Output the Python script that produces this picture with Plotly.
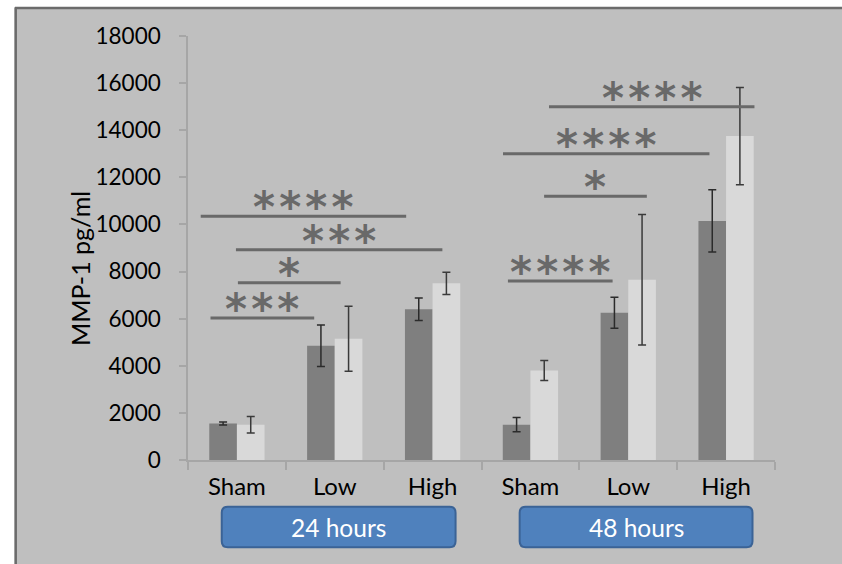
import plotly.graph_objects as go

# Treatment groups along the x axis (two time points, three doses each)
groups = ["Sham", "Low", "High", "Sham", "Low", "High"]
time_labels = ["24 hours", "48 hours"]

# MMP-1 concentration (pg/ml), mean and error for the two series
dark_vals = [1550, 4850, 6400, 1500, 6250, 10150]
dark_err = [60, 880, 475, 300, 660, 1325]
light_vals = [1500, 5150, 7500, 3800, 7650, 13750]
light_err = [350, 1380, 470, 425, 2770, 2060]

# Significance brackets: start/end on the category axis, height, label
sig_x0 = [-0.37, -0.01, 0.01, -0.27, 2.77, 3.14, 2.72, 3.19]
sig_x1 = [1.73, 2.10, 1.06, 0.79, 3.84, 4.19, 4.83, 5.29]
sig_y = [10350, 8930, 7520, 6030, 7600, 11200, 13000, 15000]
sig_labels = ["****", "***", "*", "***", "****", "*", "****", "****"]

# Time-point boxes span these category-axis ranges
box_x0 = [-0.155, 2.89]
box_x1 = [2.235, 5.27]

W, H = 842, 564
ML, MR, MT, MB = 188, 67, 36, 104
PW, PH = W - ML - MR, H - MT - MB

def px_x(p):
    return (p - ML) / PW

def px_y(p):
    return (H - MB - p) / PH

FONT = "Lato"
PANEL = "#bfbfbf"
AX = "#a6a6a6"
SIG = "#696969"

x = list(range(len(groups)))

fig = go.Figure()
fig.add_trace(go.Bar(
    x=x, y=dark_vals, marker=dict(color="#7f7f7f", line=dict(width=0)),
    error_y=dict(type="data", array=dark_err, color="#2b2b2b", thickness=1.5, width=4),
    showlegend=False,
))
fig.add_trace(go.Bar(
    x=x, y=light_vals, marker=dict(color="#d9d9d9", line=dict(width=0)),
    error_y=dict(type="data", array=light_err, color="#3a3a3a", thickness=1.5, width=4),
    showlegend=False,
))

shapes = []
annotations = []

# white page margin and the dark frame of the chart panel
shapes.append(dict(type="rect", xref="paper", yref="paper",
                   x0=px_x(-10), x1=px_x(14.5), y0=px_y(H + 10), y1=px_y(-10),
                   fillcolor="white", line=dict(width=0), layer="below"))
shapes.append(dict(type="rect", xref="paper", yref="paper",
                   x0=px_x(-10), x1=px_x(W + 10), y0=px_y(7), y1=px_y(-10),
                   fillcolor="white", line=dict(width=0), layer="below"))
shapes.append(dict(type="line", xref="paper", yref="paper",
                   x0=px_x(15.7), x1=px_x(15.7), y0=px_y(7.5), y1=px_y(H + 10),
                   line=dict(color="#6b6b6b", width=2.5)))
shapes.append(dict(type="line", xref="paper", yref="paper",
                   x0=px_x(15), x1=px_x(W + 10), y0=px_y(8), y1=px_y(8),
                   line=dict(color="#6b6b6b", width=2.5)))

# significance brackets and their asterisks
for a, b, yv, lab in zip(sig_x0, sig_x1, sig_y, sig_labels):
    shapes.append(dict(type="line", xref="x", yref="y", x0=a, x1=b, y0=yv, y1=yv,
                       line=dict(color=SIG, width=3)))
    annotations.append(dict(x=(a + b) / 2, y=yv, xref="x", yref="y",
                            text="<b>" + "\u200a".join(lab) + "</b>", showarrow=False,
                            yanchor="bottom", yshift=-18,
                            font=dict(family="DejaVu Sans", size=42, color=SIG)))

# rounded blue boxes naming the time points
r_x = 6 / (PW / 6)
r_y = 6 / PH
by0, by1 = px_y(547.3), px_y(506.7)
for a, b, lab in zip(box_x0, box_x1, time_labels):
    path = (f"M {a + r_x} {by0} L {b - r_x} {by0} Q {b} {by0} {b} {by0 + r_y} "
            f"L {b} {by1 - r_y} Q {b} {by1} {b - r_x} {by1} "
            f"L {a + r_x} {by1} Q {a} {by1} {a} {by1 - r_y} "
            f"L {a} {by0 + r_y} Q {a} {by0} {a + r_x} {by0} Z")
    shapes.append(dict(type="path", xref="x", yref="paper", path=path,
                       fillcolor="#4f81bd", line=dict(color="#3b6396", width=2)))
    annotations.append(dict(x=(a + b) / 2, y=(by0 + by1) / 2, xref="x", yref="paper",
                            text=lab, showarrow=False, xanchor="center", yanchor="middle",
                            font=dict(family=FONT, size=24.5, color="white")))

# y-axis title
annotations.append(dict(x=px_x(80), y=px_y(269), xref="paper", yref="paper",
                        text="MMP-1 pg/ml", textangle=-90, showarrow=False,
                        xanchor="center", yanchor="middle",
                        font=dict(family=FONT, size=25, color="black")))

fig.update_layout(
    width=W, height=H,
    margin=dict(l=ML, r=MR, t=MT, b=MB, pad=0),
    paper_bgcolor=PANEL, plot_bgcolor=PANEL,
    barmode="group", bargap=0.435, bargroupgap=0,
    shapes=shapes, annotations=annotations,
    font=dict(family=FONT, size=22, color="black"),
    xaxis=dict(
        range=[-0.5, 5.5], tickmode="array", tickvals=x, ticktext=groups,
        ticks="", showline=True, linecolor=AX, linewidth=1.5,
        showgrid=False, zeroline=False, ticklabelstandoff=4,
        minor=dict(tickmode="array", tickvals=[i - 0.5 for i in range(7)],
                   ticks="outside", ticklen=8, tickcolor=AX, tickwidth=1.5,
                   showgrid=False),
        tickfont=dict(family=FONT, size=24, color="black"),
    ),
    yaxis=dict(
        range=[0, 18000], tickmode="array", tickvals=list(range(0, 18001, 2000)),
        tickformat="d", ticks="outside", ticklen=7, tickcolor=AX, tickwidth=1.5,
        showline=True, linecolor=AX, linewidth=1.5, showgrid=False, zeroline=False,
        ticklabelstandoff=14,
        tickfont=dict(family=FONT, size=22.5, color="black"),
    ),
)

fig.write_html("out.html")
